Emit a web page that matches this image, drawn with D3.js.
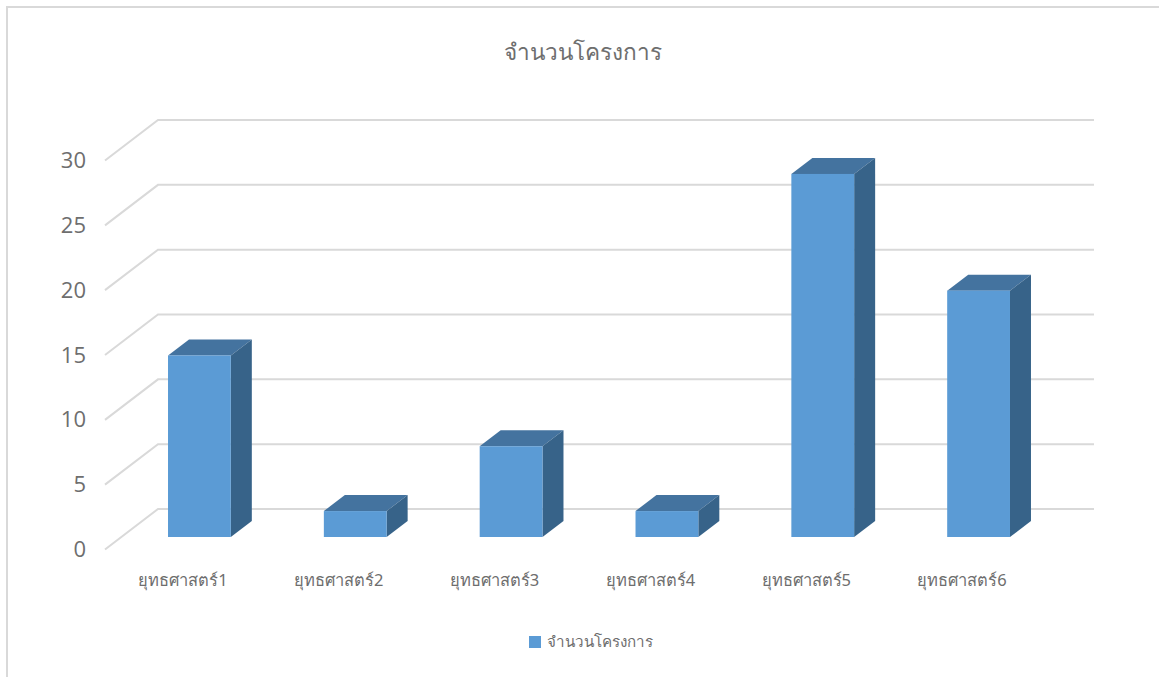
<!DOCTYPE html>
<html>
<head>
<meta charset="utf-8">
<script src="https://cdn.jsdelivr.net/npm/d3@7"></script>
<style>
  html, body { margin: 0; padding: 0; background: #fff; }
  svg { display: block; }
  text { font-family: "Noto Sans", "Open Sans", sans-serif; fill: #6e6e6e; }
</style>
</head>
<body>
<div id="chart"></div>
<script>
var categories = ['ยุทธศาสตร์1', 'ยุทธศาสตร์2', 'ยุทธศาสตร์3', 'ยุทธศาสตร์4', 'ยุทธศาสตร์5', 'ยุทธศาสตร์6'];
var values = [14, 2, 7, 2, 28, 19];
var yTicks = [0, 5, 10, 15, 20, 25, 30];
var chartTitle = 'จำนวนโครงการ';

var width = 1159;
var height = 677;
var barPadding = 0.597;

// floor depth in px, back wall to front edge
var depthX = 53;
var depthY = 40.5;
// bar sits in the middle of the floor
var barFrontX = 16.5;
var barFrontY = 28;
var barDepthX = 21;
var barDepthY = 16;

var svg = d3.select('#chart')
  .append('svg')
  .attr('width', width)
  .attr('height', height);

var x = d3.scaleBand()
  .domain(categories)
  .range([105, 1040])
  .paddingInner(barPadding)
  .paddingOuter(barPadding / 2);

// back wall scale
var y = d3.scaleLinear().domain([0, 30]).range([509, 120]);
// front edge scale, used for the tick labels
var yFront = d3.scaleLinear().domain([0, 30]).range([509 + depthY, 120 + depthY]);

// outer border, right and bottom run off the picture
svg.append('path')
  .attr('d', 'M7,' + height + 'V7H' + width)
  .attr('fill', 'none')
  .attr('stroke', '#d9d9d9')
  .attr('stroke-width', 2);

svg.append('text')
  .attr('x', 583)
  .attr('y', 60)
  .attr('text-anchor', 'middle')
  .attr('font-size', 22.6)
  .attr('font-weight', 300)
  .text(chartTitle);

svg.selectAll('.grid')
  .data(yTicks)
  .enter()
  .append('path')
  .attr('class', 'grid')
  .attr('fill', 'none')
  .attr('stroke', '#d9d9d9')
  .attr('stroke-width', 2)
  .attr('d', function(d) {
    var line = d3.path();
    line.moveTo(x.range()[0], yFront(d));
    line.lineTo(x.range()[0] + depthX, y(d));
    line.lineTo(x.range()[1] + depthX + 1, y(d));
    return line.toString();
  });

var yAxis = svg.append('g')
  .attr('transform', 'translate(93,0)')
  .call(d3.axisLeft(yFront).tickValues(yTicks).tickSize(0).tickPadding(7));
yAxis.select('.domain').remove();
yAxis.selectAll('text')
  .style('font-size', '22px')
  .style('font-family', '"Open Sans", sans-serif');

var xAxis = svg.append('g')
  .attr('transform', 'translate(0,574)')
  .call(d3.axisBottom(x).tickSize(0).tickPadding(0));
xAxis.select('.domain').remove();
xAxis.selectAll('text')
  .style('font-size', '16.5px');

var bars = svg.selectAll('.bar')
  .data(categories.map(function(c, i) { return { cat: c, val: values[i] }; }))
  .enter()
  .append('g')
  .attr('class', 'bar');

function barLeft(d) { return x(d.cat) + barFrontX; }
function barRight(d) { return barLeft(d) + x.bandwidth(); }
function barTop(d) { return y(d.val) + barFrontY; }
function barBottom() { return y(0) + barFrontY; }

// top face
bars.append('path')
  .attr('fill', '#44739f')
  .attr('d', function(d) {
    var p = d3.path();
    p.moveTo(barLeft(d), barTop(d));
    p.lineTo(barLeft(d) + barDepthX, barTop(d) - barDepthY);
    p.lineTo(barRight(d) + barDepthX, barTop(d) - barDepthY);
    p.lineTo(barRight(d), barTop(d));
    p.closePath();
    return p.toString();
  });

// side face
bars.append('path')
  .attr('fill', '#376389')
  .attr('d', function(d) {
    var p = d3.path();
    p.moveTo(barRight(d), barTop(d));
    p.lineTo(barRight(d) + barDepthX, barTop(d) - barDepthY);
    p.lineTo(barRight(d) + barDepthX, barBottom() - barDepthY);
    p.lineTo(barRight(d), barBottom());
    p.closePath();
    return p.toString();
  });

// front face
bars.append('rect')
  .attr('fill', '#5b9bd5')
  .attr('x', barLeft)
  .attr('y', barTop)
  .attr('width', x.bandwidth())
  .attr('height', function(d) { return barBottom() - barTop(d); });

// legend
svg.append('rect')
  .attr('x', 529)
  .attr('y', 636)
  .attr('width', 12)
  .attr('height', 12)
  .attr('fill', '#5b9bd5');

svg.append('text')
  .attr('x', 547)
  .attr('y', 647)
  .attr('font-size', 15.2)
  .text(chartTitle);
</script>
</body>
</html>
